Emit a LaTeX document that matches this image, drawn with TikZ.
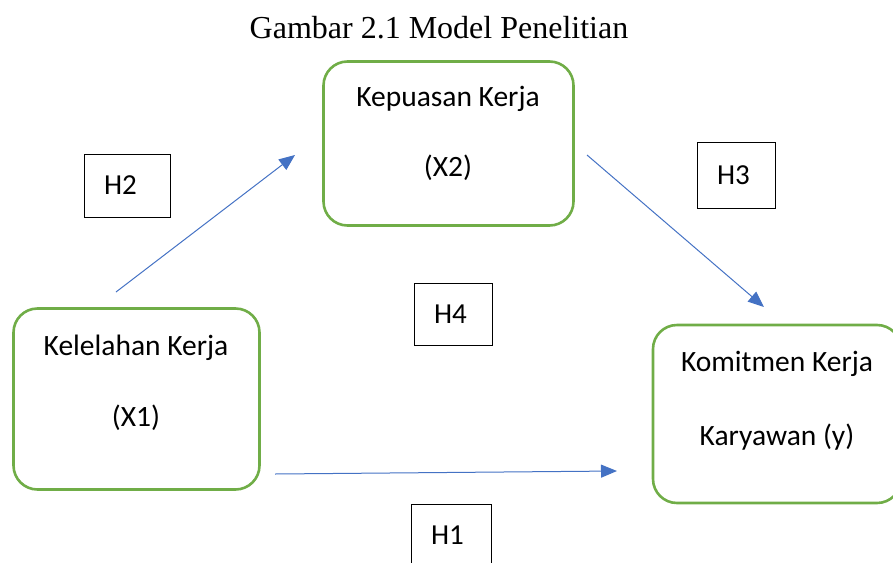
\documentclass[tikz,border=0pt]{standalone}
\usepackage{fontspec}
\setmainfont{Liberation Serif}
\newfontfamily\calibri{Carlito}
\usetikzlibrary{positioning,arrows.meta}
\definecolor{boxgreen}{HTML}{70AD47}
\definecolor{linkblue}{HTML}{4472C4}

\begin{document}
\begin{tikzpicture}[x=1pt,y=-1pt,
  varbox/.style={draw=boxgreen, line width=2.6pt, rounded corners=24pt},
  vartext/.style={font=\calibri\fontsize{29.5}{34}\selectfont, inner sep=0pt},
  hbox/.style={draw, line width=1pt, font=\calibri\fontsize{29}{34}\selectfont,
    align=left, inner xsep=20pt, inner ysep=0pt},
  link/.style={-{Triangle[length=16pt,width=13pt]}, draw=linkblue, line width=1pt}]
  \useasboundingbox (0,0) rectangle (893,562);

  \node (title) at (439,28) {\fontsize{32}{38}\selectfont Gambar 2.1 Model Penelitian};

  % variables
  \node [varbox, minimum width=250pt, minimum height=164pt] (x2) at (448.5,143.5) {};
  \node [vartext] (x2a) at (448,99) {Kepuasan Kerja};
  \node [vartext] (x2b) at (448,168) {(X2)};

  \node [varbox, minimum width=246pt, minimum height=181pt] (x1) at (136.5,399) {};
  \node [vartext] (x1a) at (136,348) {Kelelahan Kerja};
  \node [vartext] (x1b) at (136,418) {(X1)};

  \node [varbox, minimum width=248pt, minimum height=178pt] (y) at (777,414) {};
  \node [vartext] (ya) at (777,364) {Komitmen Kerja};
  \node [vartext] (yb) at (777,437) {Karyawan (y)};

  % hypotheses
  \node [hbox, text width=46pt, minimum height=63pt] (h2) at (127,185.5) {H2};
  \node [hbox, text width=38pt, minimum height=66pt] (h3) at (736,175) {H3};
  \node [hbox, text width=38pt, minimum height=62pt] (h4) at (453,314) {H4};
  \node [hbox, text width=40pt, minimum height=62pt] (h1) at (451,535) {H1};

  % arrows
  \coordinate (s2) at (116,292);
  \coordinate (e2) at (295,155);
  \coordinate (s3) at (587,155);
  \coordinate (e3) at (764,307);
  \coordinate (s1) at (275,474);
  \coordinate (e1) at (617,471);
  \draw [link] (s2) -- (e2);
  \draw [link] (s3) -- (e3);
  \draw [link] (s1) -- (e1);
\end{tikzpicture}
\end{document}
